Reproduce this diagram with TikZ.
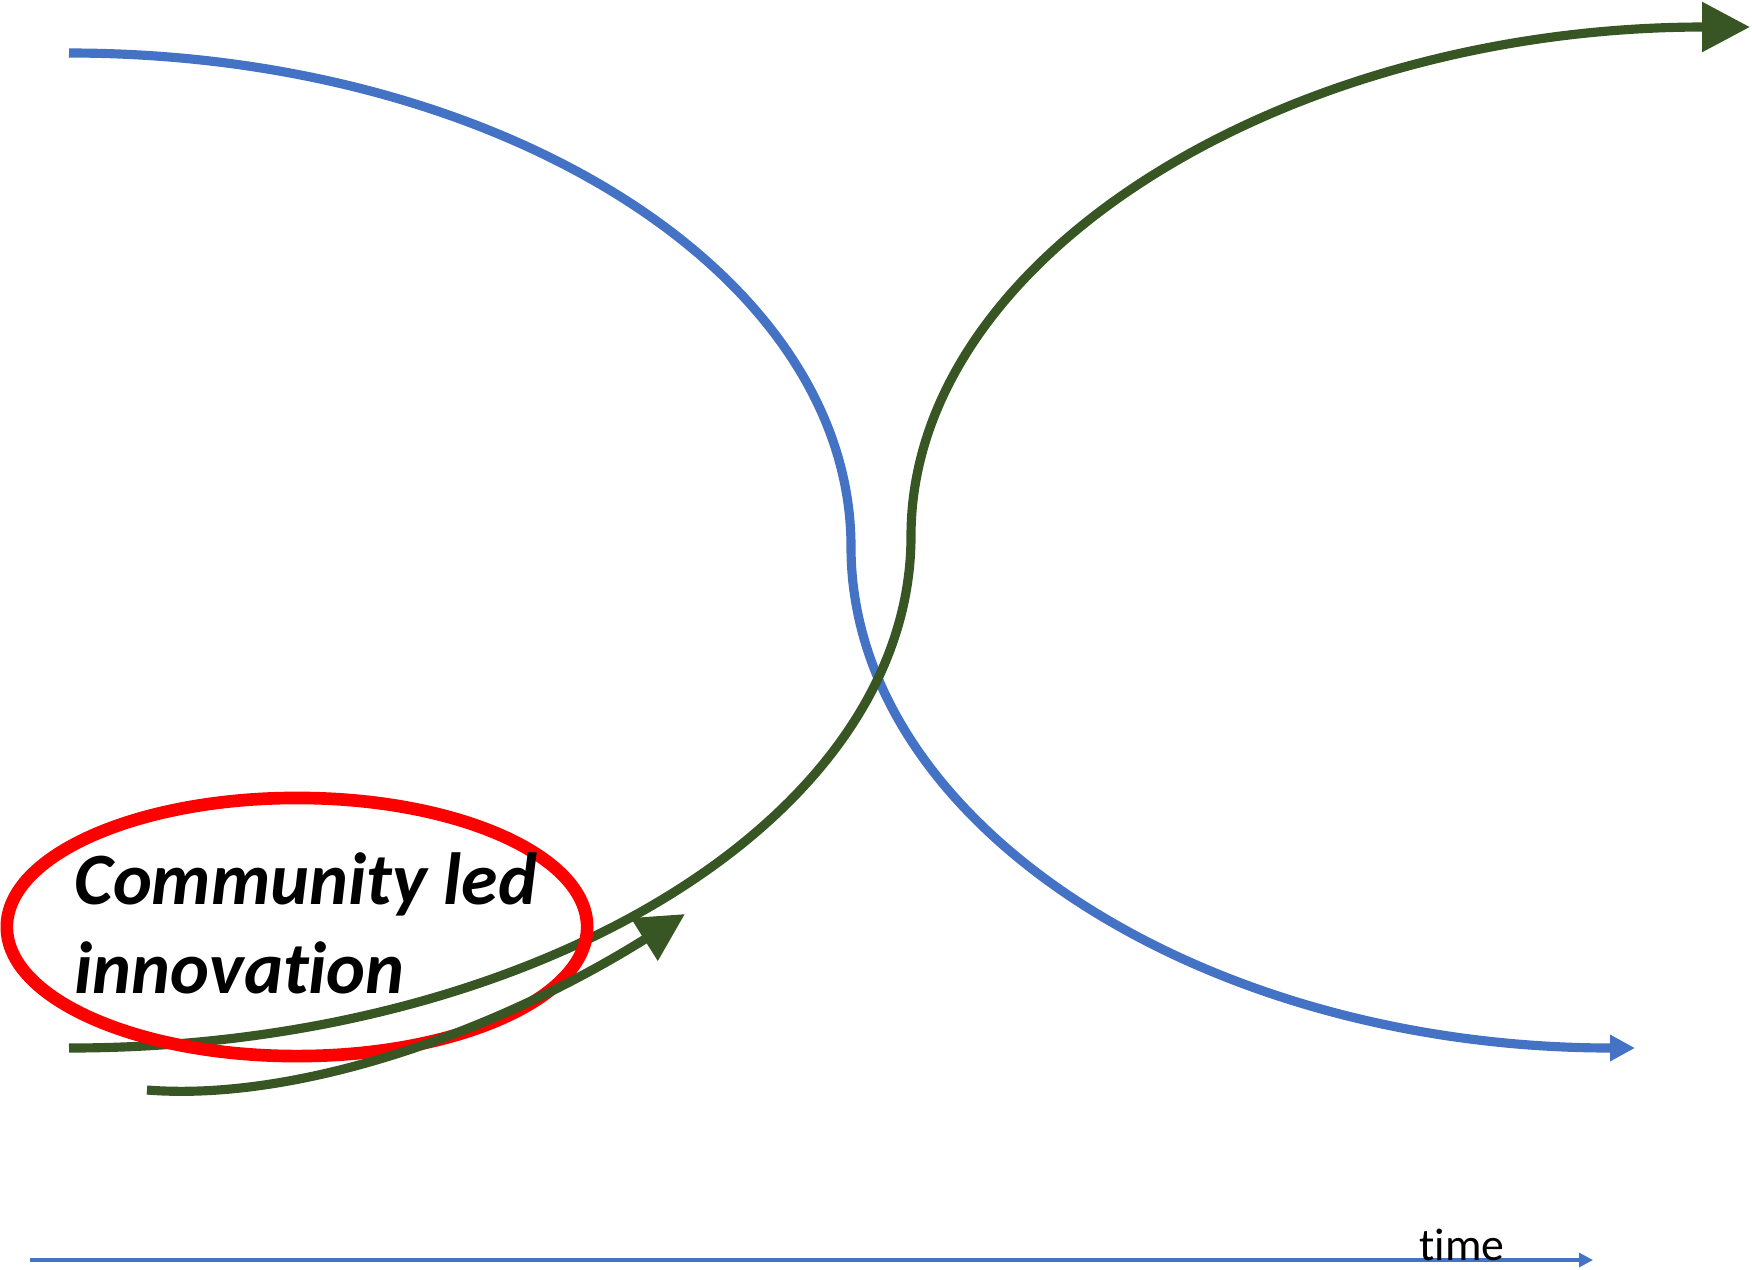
\documentclass[tikz,border=0pt]{standalone}
\usepackage{fontspec}
\setmainfont{Carlito}[Ligatures={NoCommon,NoContextual}]
\usetikzlibrary{arrows.meta}
\definecolor{oldblue}{HTML}{4472C4}
\definecolor{newgreen}{HTML}{375623}

\begin{document}
\begin{tikzpicture}[x=0.01cm, y=-0.01cm,
        oldcurve/.style = {oldblue, line width=2.6pt, -{Triangle[length=0.25cm, width=0.25cm]}},
        newcurve/.style = {newgreen, line width=2.6pt, -{Triangle[length=0.48cm, width=0.48cm]}},
        ring/.style = {red, line width=3.6pt},
        timeaxis/.style = {oldblue, line width=0.9pt, -{Triangle[length=0.14cm, width=0.14cm]}}]
    \useasboundingbox (0,0) rectangle (1752,1269);

    \coordinate (oldstart) at (69,53);
    \coordinate (oldmid) at (851,547);
    \coordinate (oldend) at (1635,1048);
    \coordinate (newstart) at (69,1048);
    \coordinate (newmid) at (911,536);
    \coordinate (newend) at (1750,27);
    \coordinate (pilotstart) at (147,1090);
    \coordinate (pilotend) at (685,914);
    \coordinate (axisstart) at (30,1260);
    \coordinate (axisend) at (1593,1260);

    \draw[oldcurve] (oldstart) .. controls (501,53) and (851,274) .. (oldmid)
        .. controls (851,824) and (1202,1048) .. (oldend);
    \draw[newcurve] (newstart) .. controls (534,1048) and (911,819) .. (newmid)
        .. controls (911,255) and (1287,27) .. (newend);
    \draw[ring] (297,927) ellipse [x radius=2.9cm, y radius=1.29cm];
    \draw[newcurve] (pilotstart) .. controls (300,1102) and (500,1030) .. (pilotend);

    \node[anchor=north west, align=left, inner sep=0pt,
          font=\fontsize{21}{25.3}\selectfont\bfseries\itshape]
        (cli) at (74,852) {Community led\\innovation};

    \draw[timeaxis] (axisstart) -- (axisend);
    \node[anchor=base, inner sep=0pt, font=\fontsize{13}{15}\selectfont]
        (timelbl) at (1462,1260) {time};
\end{tikzpicture}
\end{document}
